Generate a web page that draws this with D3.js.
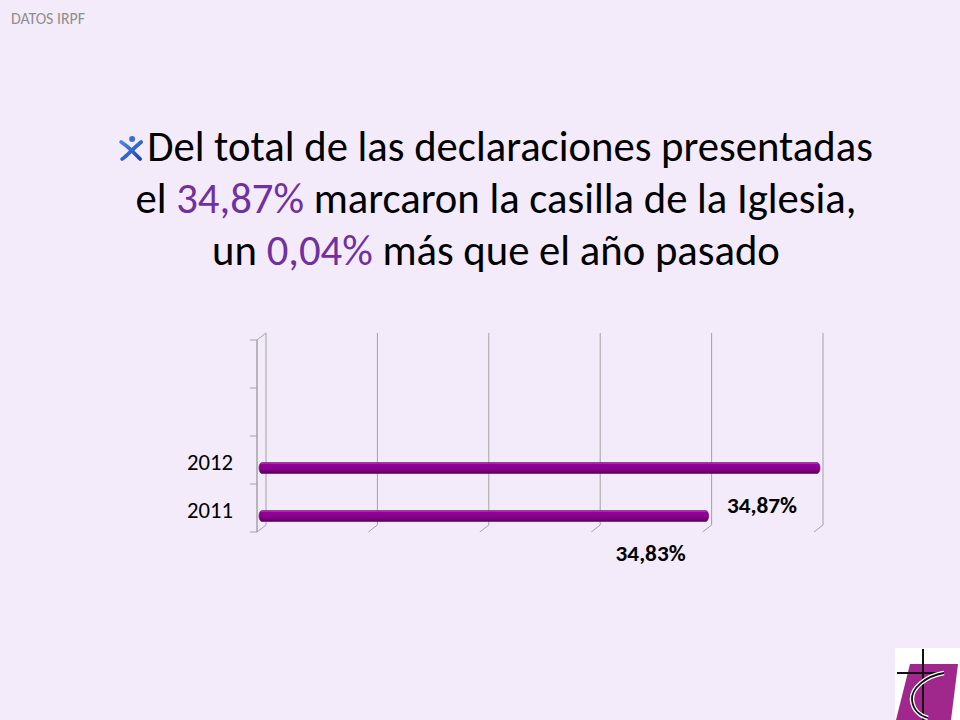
<!DOCTYPE html>
<html>
<head>
<meta charset="utf-8">
<script src="https://cdn.jsdelivr.net/npm/d3@7"></script>
<style>
  body { margin: 0; background: #f3ebf9; }
  svg { display: block; }
  text { white-space: pre; }
</style>
</head>
<body>
<div id="chart"></div>
<script>
// data
const categories = ["2012", "2011"];
const values = [34.87, 34.83];
const valueLabels = ["34,87%", "34,83%"];
const xDomain = [34.67, 34.87];
const xIntervals = 5;
const emptySlots = ["", " "];   // the chart keeps two empty rows above the bars
const corner = "DATOS IRPF";
const titleLines = [
  [["Del total de las declaraciones presentadas", false]],
  [["el ", false], ["34,87%", true], [" marcaron la casilla de la Iglesia,", false]],
  [["un ", false], ["0,04%", true], [" más que el año pasado", false]]
];

const W = 960, H = 720;
const FONT = "Carlito, Lato, 'Open Sans', sans-serif";
const svg = d3.select("#chart").append("svg").attr("width", W).attr("height", H);

svg.append("rect").attr("width", W).attr("height", H).attr("fill", "#f3ebf9");

// size a text so that it is as wide as the picture shows
function fit(sel, target) {
  const n = sel.node();
  const fs = parseFloat(sel.attr("font-size"));
  const w = n.getComputedTextLength();
  sel.attr("font-size", fs * target / w);
  return fs * target / w;
}
// keep the font size, squeeze the glyphs to the width of the picture
function squeeze(sel, target) {
  sel.attr("textLength", target).attr("lengthAdjust", "spacingAndGlyphs");
}

// corner label
svg.append("text")
  .attr("x", 11).attr("y", 24)
  .attr("font-family", FONT).attr("font-size", 14)
  .attr("fill", "#8e8e8e")
  .text(corner)
  .call(s => fit(s, 74));

// title
const title = svg.append("g");
const lineY = [161, 213, 265];
let titleSize = 37;
titleLines.forEach((segs, i) => {
  const t = title.append("text")
    .attr("x", 0).attr("y", lineY[i])
    .attr("font-family", FONT).attr("font-size", titleSize)
    .attr("fill", "#000");
  segs.forEach(s => t.append("tspan").attr("fill", s[1] ? "#7030a0" : "#000").text(s[0]));
  if (i === 0) titleSize = fit(t, 726);
  else t.attr("font-size", titleSize);
});
// centre the lines; the first carries the bullet icon on its left
title.selectAll("text").each(function(d, i) {
  const w = this.getComputedTextLength();
  const extra = i === 0 ? 28 : 0;
  d3.select(this).attr("x", 496 - (w + extra) / 2 + extra);
});
const firstX = +title.select("text").attr("x");
const igrad = svg.append("defs").append("linearGradient")
  .attr("id", "iconGrad").attr("x1", 0).attr("x2", 1).attr("y1", 0).attr("y2", 1);
igrad.append("stop").attr("offset", 0).attr("stop-color", "#4a86e0");
igrad.append("stop").attr("offset", 1).attr("stop-color", "#1c46b0");
const icon = svg.append("g").attr("transform", `translate(${firstX - 28},136)`)
  .attr("fill", "none").attr("stroke", "url(#iconGrad)").attr("stroke-linecap", "round");
icon.append("path").attr("d", "M2,6 Q8,10 12,14 Q17,19 21,23").attr("stroke-width", 3.8);
icon.append("path").attr("d", "M22,6 Q15,12 11,16 Q6,21 3,23").attr("stroke-width", 3.8);
icon.append("circle").attr("cx", 13).attr("cy", 3).attr("r", 3).attr("fill", "#3a6fd0").attr("stroke", "none");

// chart
const front = { left: 257, right: 814, top: 340, bottom: 532 };
const depth = { dx: 9, dy: -7 };
const x = d3.scaleLinear().domain(xDomain).range([front.left, front.right]);
const y = d3.scaleBand().domain(emptySlots.concat(categories)).range([front.top, front.bottom]);
const ticks = d3.range(xIntervals + 1).map(i => xDomain[0] + i * (xDomain[1] - xDomain[0]) / xIntervals);

const grid = svg.append("g").attr("stroke", "#a3a3a3").attr("fill", "none");
ticks.forEach(t => {
  const bx = x(t) + depth.dx;
  grid.append("line")
    .attr("x1", bx).attr("x2", bx)
    .attr("y1", front.top + depth.dy).attr("y2", front.bottom + depth.dy);
  grid.append("line")
    .attr("x1", bx).attr("y1", front.bottom + depth.dy)
    .attr("x2", x(t)).attr("y2", front.bottom);
});
// left wall edge and ticks
grid.append("line")
  .attr("x1", front.left).attr("x2", front.left)
  .attr("y1", front.top).attr("y2", front.bottom)
  .attr("stroke-width", 1.5);
grid.append("line")
  .attr("x1", front.left).attr("y1", front.top)
  .attr("x2", front.left + depth.dx).attr("y2", front.top + depth.dy);
y.domain().concat(["end"]).forEach((c, i) => {
  const yy = front.top + i * y.step();
  grid.append("line").attr("x1", front.left - 7).attr("x2", front.left).attr("y1", yy).attr("y2", yy);
});

// bar gradient
const grad = svg.select("defs").append("linearGradient")
  .attr("id", "barGrad").attr("x1", 0).attr("x2", 0).attr("y1", 0).attr("y2", 1);
[[0, "#b35ab3"], [0.18, "#95009a"], [0.6, "#86008a"], [1, "#560058"]].forEach(s =>
  grad.append("stop").attr("offset", s[0]).attr("stop-color", s[1]));

const barH = 11, barDy = 8, midX = 4;
const bars = svg.append("g");
categories.forEach((c, i) => {
  const cy = y(c) + y.bandwidth() / 2 + barDy;
  bars.append("rect")
    .attr("x", x(xDomain[0]) + midX - 2)
    .attr("y", cy - barH / 2)
    .attr("width", x(values[i]) - x(xDomain[0]) + 4)
    .attr("height", barH)
    .attr("rx", 3).attr("ry", barH / 2)
    .attr("fill", "url(#barGrad)")
    .attr("stroke", "#6a006c").attr("stroke-width", 0.6);
  svg.append("text")
    .attr("x", x(values[i]) - 87).attr("y", cy + 37)
    .attr("dominant-baseline", "central")
    .attr("font-family", FONT).attr("font-weight", "bold").attr("font-size", 22)
    .attr("fill", "#000")
    .text(valueLabels[i])
    .call(s => squeeze(s, 70));
  svg.append("text")
    .attr("x", 187).attr("y", y(c) + y.bandwidth() / 2 + 2)
    .attr("dominant-baseline", "central")
    .attr("font-family", FONT).attr("font-size", 22)
    .attr("fill", "#000")
    .text(c)
    .call(s => squeeze(s, 46));
});

// logo, bottom right
const logo = svg.append("g");
logo.append("rect").attr("x", 895).attr("y", 648).attr("width", 65).attr("height", 72).attr("fill", "#fff");
logo.append("path").attr("d", "M910,664 L958,664 L951,720 L896,720 Z").attr("fill", "#a0288c");
logo.append("line").attr("x1", 923).attr("x2", 923).attr("y1", 649).attr("y2", 720)
  .attr("stroke", "#111").attr("stroke-width", 2);
logo.append("line").attr("x1", 897).attr("x2", 937).attr("y1", 673).attr("y2", 673)
  .attr("stroke", "#111").attr("stroke-width", 1.8);
const cPath = "M944,673 C926,676 911,688 912,700 C913,710 920,716 928,718";
logo.append("path").attr("d", cPath).attr("fill", "none").attr("stroke", "#fff").attr("stroke-width", 4.5);
logo.append("path").attr("d", cPath).attr("fill", "none").attr("stroke", "#111").attr("stroke-width", 1.8);
</script>
</body>
</html>
